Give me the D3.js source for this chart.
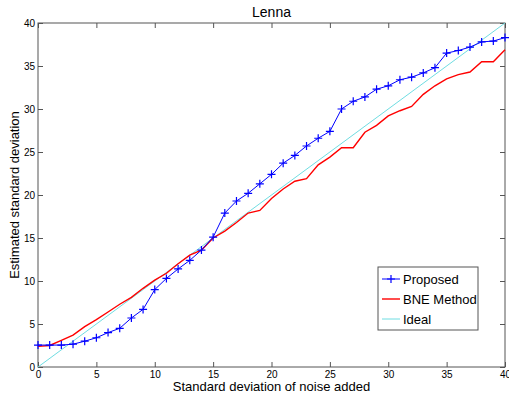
<!DOCTYPE html>
<html>
<head>
<meta charset="utf-8">
<script src="https://cdn.jsdelivr.net/npm/d3@7"></script>
<style>
  body { margin: 0; background: #fff; }
  text { font-family: "Liberation Sans", Arial, sans-serif; fill: #000; }
</style>
</head>
<body>
<div id="chart"></div>
<script>
// noise levels (x)
var noiseLevels = d3.range(0, 41);
// estimated std, proposed method
var proposedValues = [2.55, 2.55, 2.55, 2.65, 3.0, 3.4, 4.0, 4.5, 5.7, 6.7,
  9.0, 10.3, 11.4, 12.4, 13.6, 15.1, 17.9, 19.3, 20.2, 21.3,
  22.4, 23.7, 24.6, 25.7, 26.6, 27.4, 30.0, 30.9, 31.4, 32.3,
  32.7, 33.4, 33.7, 34.2, 34.8, 36.5, 36.8, 37.2, 37.8, 37.9, 38.3];
// estimated std, BNE method
var bneValues = [2.4, 2.5, 3.1, 3.7, 4.7, 5.5, 6.4, 7.3, 8.1, 9.15,
  10.1, 10.9, 12.0, 13.0, 13.6, 15.0, 15.8, 16.8, 17.9, 18.2,
  19.6, 20.7, 21.6, 21.9, 23.5, 24.4, 25.5, 25.5, 27.3, 28.1,
  29.2, 29.8, 30.3, 31.7, 32.7, 33.5, 34.0, 34.3, 35.5, 35.5, 36.9];
// ideal line end points
var idealPoints = [[0, 0], [40, 40]];
var tickValues = [0, 5, 10, 15, 20, 25, 30, 35, 40];
var seriesNames = ["Proposed", "BNE Method", "Ideal"];
var seriesColors = ["#0000ff", "#ff0000", "#6fdde2"];

var W = 509, H = 397;
var margin = {top: 23, right: 4, bottom: 30, left: 38};
var width = W - margin.left - margin.right,
    height = H - margin.top - margin.bottom;

var svg = d3.select("#chart").append("svg")
    .attr("width", W)
    .attr("height", H);

var g = svg.append("g")
    .attr("transform", "translate(" + margin.left + "," + margin.top + ")");

var x = d3.scaleLinear().domain([0, 40]).range([0, width]);
var y = d3.scaleLinear().domain([0, 40]).range([height, 0]);

//ejes con ticks hacia adentro
var axisColor = "#555";
function styleAxis(sel) {
    sel.select(".domain").remove();
    sel.selectAll(".tick line").attr("stroke", axisColor);
    sel.selectAll(".tick text").style("font-size", "10px").attr("fill", "#222");
}

g.append("g")
    .attr("transform", "translate(0," + height + ")")
    .call(d3.axisBottom(x).tickValues(tickValues).tickSizeInner(-5).tickPadding(4))
    .call(styleAxis);
g.append("g")
    .call(d3.axisTop(x).tickValues(tickValues).tickSizeInner(-5).tickFormat(""))
    .call(styleAxis);
g.append("g")
    .call(d3.axisLeft(y).tickValues(tickValues).tickSizeInner(-5).tickPadding(3))
    .call(styleAxis);
g.append("g")
    .attr("transform", "translate(" + width + ",0)")
    .call(d3.axisRight(y).tickValues(tickValues).tickSizeInner(-5).tickFormat(""))
    .call(styleAxis);

g.append("rect")
    .attr("width", width)
    .attr("height", height)
    .attr("fill", "none")
    .attr("stroke", axisColor);

var line = d3.line()
    .x(function (d) { return x(d[0]); })
    .y(function (d) { return y(d[1]); });

var plot = g.append("g");

// ideal
plot.append("path")
    .datum(idealPoints)
    .attr("d", line)
    .attr("fill", "none")
    .attr("stroke", seriesColors[2])
    .attr("stroke-width", 1);

// BNE
plot.append("path")
    .datum(noiseLevels.map(function (v, i) { return [v, bneValues[i]]; }))
    .attr("d", line)
    .attr("fill", "none")
    .attr("stroke", seriesColors[1])
    .attr("stroke-width", 1.4);

// proposed
var proposedData = noiseLevels.map(function (v, i) { return [v, proposedValues[i]]; });
plot.append("path")
    .datum(proposedData)
    .attr("d", line)
    .attr("fill", "none")
    .attr("stroke", seriesColors[0])
    .attr("stroke-width", 1);

var plus = "M-4,0H4M0,-4V4";
plot.selectAll(".marker")
    .data(proposedData)
    .enter().append("path")
    .attr("class", "marker")
    .attr("transform", function (d) { return "translate(" + x(d[0]) + "," + y(d[1]) + ")"; })
    .attr("d", plus)
    .attr("stroke", seriesColors[0])
    .attr("stroke-width", 1.2);

// titulos
svg.append("text")
    .attr("x", margin.left + width / 2)
    .attr("y", 17)
    .attr("text-anchor", "middle")
    .style("font-size", "14px")
    .text("Lenna");

svg.append("text")
    .attr("x", margin.left + width / 2)
    .attr("y", 391)
    .attr("text-anchor", "middle")
    .style("font-size", "13px")
    .text("Standard deviation of noise added");

svg.append("text")
    .attr("transform", "translate(19," + (margin.top + height / 2) + ") rotate(-90)")
    .attr("text-anchor", "middle")
    .style("font-size", "13px")
    .text("Estimated standard deviation");

// leyenda
var legend = svg.append("g").attr("transform", "translate(378,267)");
legend.append("rect")
    .attr("width", 100)
    .attr("height", 63)
    .attr("fill", "#fff")
    .attr("stroke", axisColor);

var items = legend.selectAll(".item")
    .data(seriesNames)
    .enter().append("g")
    .attr("transform", function (d, i) { return "translate(0," + (12 + i * 20) + ")"; });

items.append("line")
    .attr("x1", 4).attr("x2", 22)
    .attr("stroke", function (d, i) { return seriesColors[i]; })
    .attr("stroke-width", function (d, i) { return i === 1 ? 1.4 : 1; });

items.filter(function (d, i) { return i === 0; })
    .append("path")
    .attr("transform", "translate(13,0)")
    .attr("d", plus)
    .attr("stroke", seriesColors[0])
    .attr("stroke-width", 1.2);

items.append("text")
    .attr("x", 25)
    .attr("y", 5)
    .style("font-size", "13px")
    .text(function (d) { return d; });
</script>
</body>
</html>
